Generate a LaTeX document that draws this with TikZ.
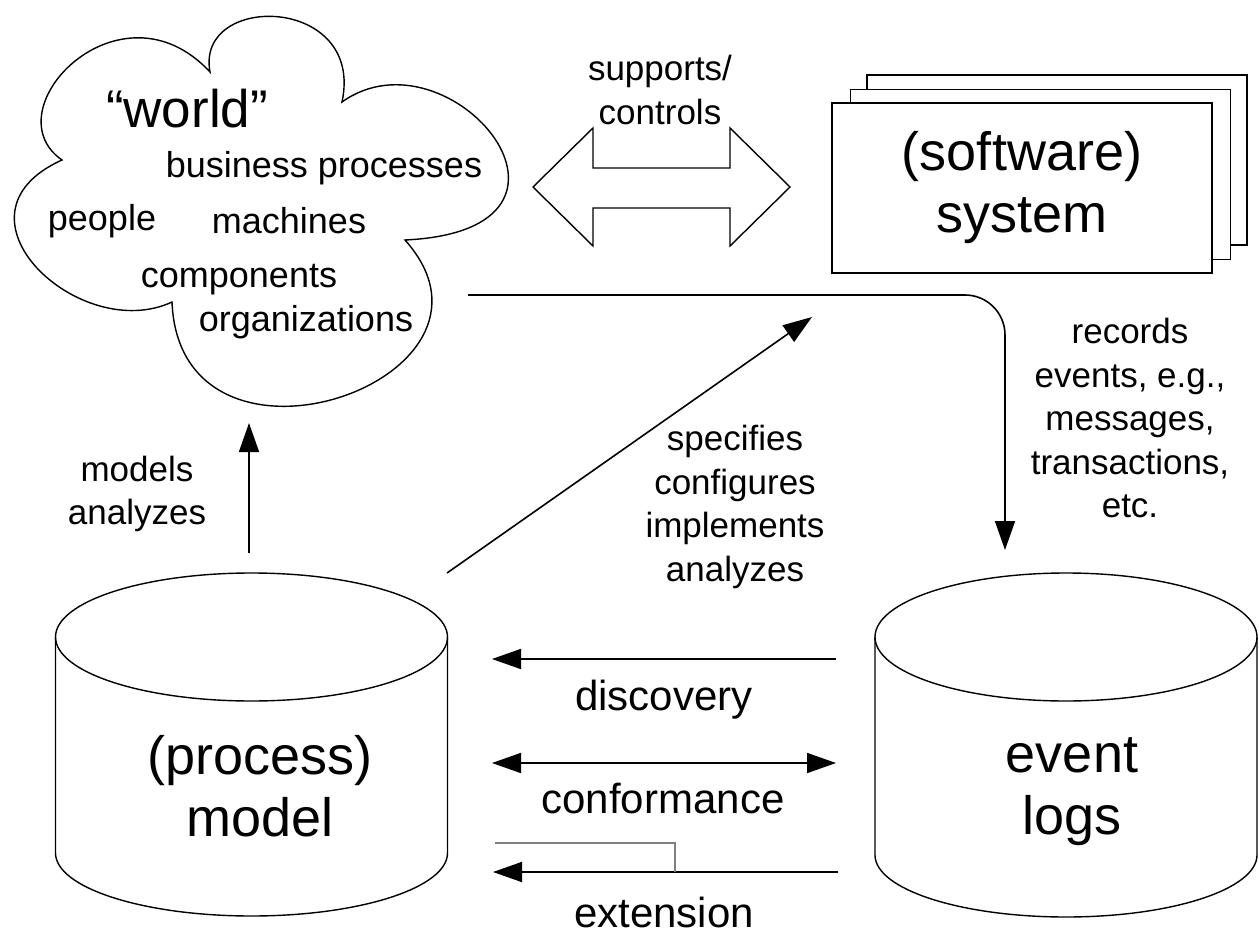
\documentclass[tikz,border=0pt]{standalone}
\usepackage{fontspec}
\setmainfont{Liberation Sans}
\usetikzlibrary{arrows.meta, positioning}

\tikzset{
  tip/.style={-{Triangle[length=29pt,width=20pt]}},
  twotip/.style={{Triangle[length=29pt,width=20pt]}-{Triangle[length=29pt,width=20pt]}},
  small/.style={align=center, inner sep=0pt, font=\fontsize{35}{43.5}\selectfont},
  cloudtxt/.style={inner sep=0pt, anchor=base, font=\fontsize{36}{42}\selectfont},
  mid/.style={inner sep=0pt, anchor=base, font=\fontsize{42}{50}\selectfont},
  big/.style={align=center, inner sep=0pt, font=\fontsize{54}{62}\selectfont},
  sheet/.style={draw, fill=white, minimum width=380pt, minimum height=170pt, inner sep=0pt}
}

\begin{document}
\begin{tikzpicture}[x=1pt, y=-1pt, line width=1.6pt]
        \useasboundingbox (0,0) rectangle (1259,942);

        % the world
        \draw[line width=1.4pt] (210,72) .. controls (195,-8) and (365,-5) .. (342,102)
            .. controls (450,25) and (620,230) .. (405,240)
            .. controls (530,380) and (180,500) .. (172,302)
            .. controls (80,345) and (-60,215) .. (62,160)
            .. controls (-10,110) and (120,-25) .. (210,72) -- cycle;
        \node[cloudtxt, font=\fontsize{53}{60}\selectfont] (world) at (187,128) {“world”};
        \node[cloudtxt] (bizproc) at (324,177) {business processes};
        \node[cloudtxt] (people) at (102,230) {people};
        \node[cloudtxt] (machines) at (289,233) {machines};
        \node[cloudtxt] (comps) at (239,287) {components};
        \node[cloudtxt] (orgs) at (306,331) {organizations};

        % the system
        \node[sheet] (sys3) at (1057,160) {};
        \node[sheet] (sys2) at (1040.5,174.5) {};
        \node[sheet, big] (sys) at (1022,188) {(software)\\system};

        \draw[line width=1.4pt] (533,187) -- (593,128) -- (593,168) -- (730,168) -- (730,128)
            -- (790,187) -- (730,246) -- (730,208) -- (593,208) -- (593,246) -- cycle;
        \node[small] (supp) at (660,90) {supports/\\controls};

        % the two stores
        \draw[line width=1.4pt] (55.5,637) -- (55.5,853) arc[start angle=180, end angle=0, x radius=196, y radius=63] -- (447.5,637);
        \draw[line width=1.4pt] (251.5,637) ellipse [x radius=196, y radius=64];
        \node[big] (model) at (260,786) {(process)\\model};

        \draw[line width=1.4pt] (875,637) -- (875,855) arc[start angle=180, end angle=0, x radius=191, y radius=62] -- (1257,637);
        \draw[line width=1.4pt] (1066,637) ellipse [x radius=191, y radius=64];
        \node[big] (logs) at (1072,792) {event\\logs};

        \coordinate (wout) at (468,295);
        \coordinate (logsin) at (1005,550);
        \coordinate (modtop) at (249,553);
        \coordinate (worldin) at (249,423);
        \coordinate (modout) at (447,573);
        \coordinate (sysin) at (812,317);

        \draw[tip, rounded corners=40pt] (wout) -| (logsin);
        \draw[tip] (modtop) -- (worldin);
        \draw[tip] (modout) -- (sysin);

        \node[small] (models) at (137,494) {models\\analyzes};
        \node[small] (spec) at (735,507) {specifies\\configures\\implements\\analyzes};
        \node[small] (rec) at (1130,418) {records\\events, e.g.,\\messages,\\transactions,\\etc.};

        \coordinate (d1) at (836,659);
        \coordinate (d2) at (492,659);
        \coordinate (c1) at (492,763);
        \coordinate (c2) at (836,763);
        \coordinate (e1) at (838,872);
        \coordinate (e2) at (493,872);
        \coordinate (e3) at (495,843);
        \coordinate (e4) at (675,872);

        \draw[tip] (d1) -- (d2);
        \draw[twotip] (c1) -- (c2);
        \draw[tip] (e1) -- (e2);
        \draw[gray, line width=1.4pt] (e3) -| (e4);

        \node[mid] (disc) at (664,710) {discovery};
        \node[mid] (conf) at (663,813) {conformance};
        \node[mid] (ext) at (664,927) {extension};
    \end{tikzpicture}
\end{document}
